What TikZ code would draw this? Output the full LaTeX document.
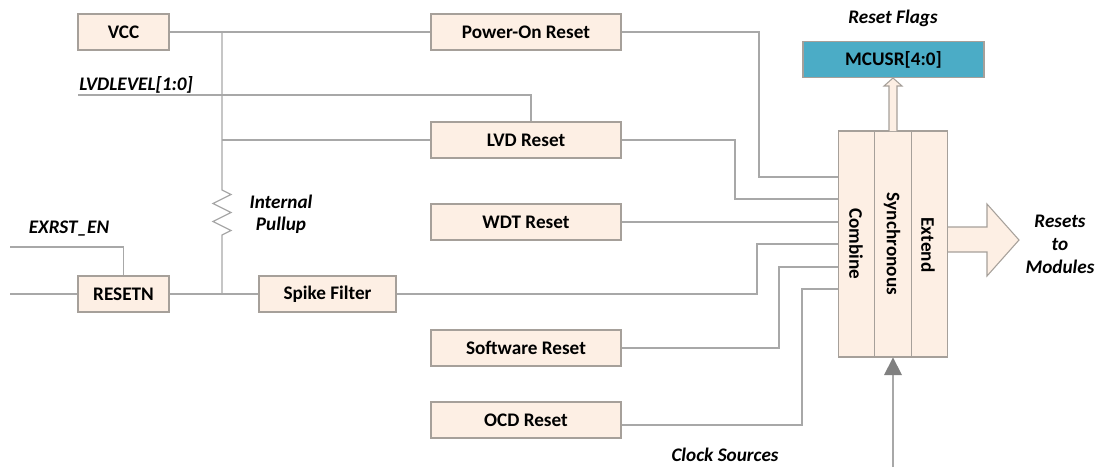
\documentclass[tikz,border=0pt]{standalone}
\usepackage{fontspec}
\setmainfont{Carlito}
\begin{document}
\begin{tikzpicture}[x=0.75pt,y=-0.75pt,
  wire/.style={draw=wirecol,line width=0.9pt},
  block/.style={draw=boxedge,line width=0.9pt,fill=peach,minimum height=27pt,inner sep=0pt,font=\fontsize{14.4}{16}\selectfont\bfseries,text=black,anchor=center},
  tall/.style={draw=boxedge,line width=0.9pt,fill=peach,minimum width=27.4pt,minimum height=169.5pt,inner sep=0pt,anchor=center},
  lab/.style={font=\fontsize{14.4}{16}\selectfont\bfseries\itshape,text=black,inner sep=0pt,align=center},
  rot/.style={font=\fontsize{14.4}{16}\selectfont\bfseries,text=black,rotate=-90,inner sep=0pt}]
\definecolor{peach}{HTML}{FDEFE4}
\definecolor{boxedge}{HTML}{A6A09A}
\definecolor{wirecol}{HTML}{A8A8A8}
\definecolor{teal}{HTML}{4BACC6}
\useasboundingbox (0,0) rectangle (1101,469);
% blocks
\node[block,minimum width=68.25pt] (vcc) at (123.5,32) {VCC};
\node[block,minimum width=142.5pt] (por) at (526,32) {Power-On Reset};
\node[block,minimum width=142.5pt] (lvd) at (526,140) {LVD Reset};
\node[block,minimum width=142.5pt] (wdt) at (526,222) {WDT Reset};
\node[block,minimum width=68.25pt] (rst) at (123.5,294) {RESETN};
\node[block,minimum width=102.75pt] (spike) at (327.5,294) {Spike Filter};
\node[block,minimum width=142.5pt] (sw) at (526,348) {Software Reset};
\node[block,minimum width=142.5pt] (ocd) at (526,420) {OCD Reset};
\node[block,minimum width=135.75pt,fill=teal] (mcusr) at (893.5,59.5) {MCUSR[4:0]};
\node[tall] (comb) at (856.5,244) {};
\node[tall] (sync) at (893,244) {};
\node[tall] (ext) at (929.5,244) {};
\node[rot] (combt) at (856,244) {Combine};
\node[rot] (synct) at (892,244) {Synchronous};
\node[rot] (extt) at (928,245) {Extend};
% free ends
\coordinate (lvdl) at (78,95);
\coordinate (ex) at (10,247);
\coordinate (rl) at (10,294);
\coordinate (clk) at (893,467);
\coordinate (j1) at (222,32);
\coordinate (j2) at (222,140);
\coordinate (j3) at (222,294);
\coordinate (ra) at (222,190);
\coordinate (rb) at (222,235);
% wires
\draw[wire] (vcc.east) -- (por.west);
\draw[wire] (j1) -- (ra) -- ++(9,4.5) -- ++(-18,9) -- ++(18,9) -- ++(-18,9) -- ++(18,9) -- ++(-9,4.5) -- (rb) -- (j3);
\draw[wire] (j2) -- (lvd.west);
\draw[wire] (lvdl) -| ([xshift=3.75pt]lvd.north);
\draw[wire] (ex) -| (rst.north);
\draw[wire] (rl) -- (rst.west);
\draw[wire] (rst.east) -- (spike.west);
\draw[wire] (por.east) -- (759,32) -- (759,177) -- (comb.west |- 0,177);
\draw[wire] (lvd.east) -- (735,140) -- (735,199) -- (comb.west |- 0,199);
\draw[wire] (wdt.east) -- (comb.west |- wdt.east);
\draw[wire] (spike.east) -- (757,294) -- (757,244) -- (comb.west |- 0,244);
\draw[wire] (sw.east) -- (779,348) -- (779,267) -- (comb.west |- 0,267);
\draw[wire] (ocd.east |- 0,425) -- (802,425) -- (802,289) -- (comb.west |- 0,289);
% hollow arrows
\draw[draw=boxedge,line width=0.8pt,fill=peach] (889,131) -- (889,86) -- (884,86) -- (893,78) -- (902,86) -- (897,86) -- (897,131);
\draw[draw=boxedge,line width=0.8pt,fill=peach] (948,227) -- (987,227) -- (987,204) -- (1019,240) -- (987,276) -- (987,252) -- (948,252);
% clock arrow
\draw[wire] (clk) -- (893,375);
\fill[gray] (893,357.5) -- (902,375) -- (884,375) -- cycle;
% labels
\node[lab] (l1) at (893,18) {Reset Flags};
\node[lab,anchor=west] (l2) at (79,85) {LVDLEVEL[1:0]};
\node[lab] (l3) at (281,202) {Internal};
\node[lab] (l4) at (281,225) {Pullup};
\node[lab] (l5) at (69,229) {EXRST\_EN};
\node[lab] (l6) at (1060,221) {Resets};
\node[lab] (l7) at (1060,245) {to};
\node[lab] (l8) at (1060,267) {Modules};
\node[lab] (l9) at (725,455) {Clock Sources};
\end{tikzpicture}
\end{document}
